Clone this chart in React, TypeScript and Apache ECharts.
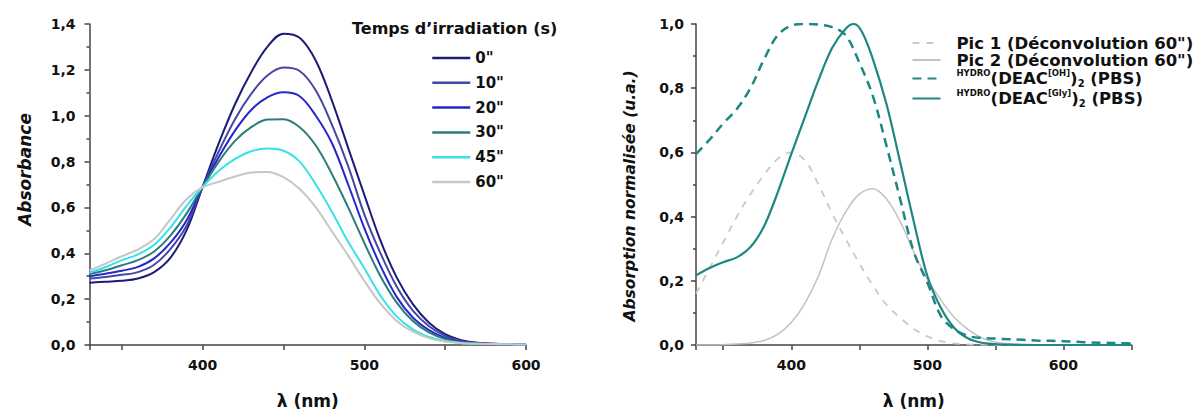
import React, { useEffect, useRef } from 'react';
import * as echarts from 'echarts';

// ---------- data ----------
const wlLeft = [330, 340, 350, 360, 370, 380, 390, 400, 410, 420, 430, 440, 450, 460, 470, 480, 490, 500, 510, 520, 530, 540, 550, 560, 570, 580, 590, 600];
const irrNames = ['0"', '10"', '20"', '30"', '45"', '60"'];
const irr0 = [0.272, 0.276, 0.280, 0.290, 0.318, 0.380, 0.500, 0.690, 0.880, 1.050, 1.190, 1.300, 1.358, 1.340, 1.240, 1.065, 0.860, 0.655, 0.455, 0.295, 0.178, 0.097, 0.047, 0.021, 0.010, 0.005, 0.003, 0.002];
const irr10 = [0.290, 0.297, 0.306, 0.318, 0.350, 0.418, 0.520, 0.690, 0.845, 0.985, 1.095, 1.175, 1.210, 1.195, 1.110, 0.960, 0.780, 0.570, 0.400, 0.255, 0.150, 0.082, 0.040, 0.018, 0.009, 0.005, 0.003, 0.002];
const irr20 = [0.300, 0.311, 0.324, 0.341, 0.378, 0.445, 0.543, 0.690, 0.820, 0.935, 1.025, 1.080, 1.102, 1.085, 1.000, 0.880, 0.700, 0.510, 0.345, 0.210, 0.120, 0.065, 0.031, 0.014, 0.007, 0.004, 0.003, 0.002];
const irr30 = [0.310, 0.326, 0.348, 0.370, 0.408, 0.477, 0.573, 0.690, 0.800, 0.890, 0.950, 0.983, 0.985, 0.950, 0.870, 0.745, 0.600, 0.445, 0.300, 0.185, 0.105, 0.055, 0.026, 0.012, 0.006, 0.004, 0.003, 0.002];
const irr45 = [0.315, 0.340, 0.370, 0.395, 0.437, 0.512, 0.607, 0.690, 0.760, 0.812, 0.845, 0.857, 0.847, 0.800, 0.700, 0.580, 0.450, 0.335, 0.215, 0.125, 0.068, 0.035, 0.017, 0.009, 0.005, 0.004, 0.003, 0.002];
const irr60 = [0.325, 0.355, 0.387, 0.417, 0.462, 0.548, 0.636, 0.688, 0.712, 0.735, 0.752, 0.755, 0.732, 0.680, 0.600, 0.495, 0.390, 0.280, 0.180, 0.105, 0.058, 0.030, 0.015, 0.008, 0.005, 0.004, 0.003, 0.002];
const irrColors = ['#1c1c78', '#4747a3', '#2626cf', '#2c7d79', '#35e2ea', '#c6c6c6'];

const wlRight = [330, 340, 350, 360, 370, 380, 390, 400, 410, 420, 430, 440, 450, 460, 470, 480, 490, 500, 510, 520, 530, 540, 550, 560, 570, 580, 590, 600, 610, 620, 630, 640, 650];
const rightNames = ['Pic 1 (Déconvolution 60")', 'Pic 2 (Déconvolution 60")', 'HYDRO(DEAC[OH])2 (PBS)', 'HYDRO(DEAC[Gly])2 (PBS)'];
const pic1 = [0.160, 0.240, 0.320, 0.400, 0.470, 0.530, 0.580, 0.600, 0.575, 0.500, 0.410, 0.330, 0.255, 0.185, 0.125, 0.085, 0.050, 0.027, 0.012, 0.005, 0.002, 0.001, 0, 0, 0, 0, 0, 0, 0, 0, 0, 0, 0];
const pic2 = [0, 0, 0.001, 0.003, 0.006, 0.014, 0.033, 0.070, 0.130, 0.215, 0.330, 0.415, 0.470, 0.487, 0.455, 0.385, 0.290, 0.205, 0.140, 0.085, 0.048, 0.022, 0.009, 0.004, 0.002, 0.001, 0, 0, 0, 0, 0, 0, 0];
const deacOH = [0.595, 0.640, 0.690, 0.735, 0.800, 0.890, 0.965, 0.995, 1.000, 0.998, 0.990, 0.965, 0.880, 0.775, 0.620, 0.455, 0.290, 0.195, 0.090, 0.048, 0.028, 0.022, 0.020, 0.018, 0.016, 0.014, 0.013, 0.012, 0.010, 0.008, 0.007, 0.006, 0.005];
const wlGly = [330, 340, 350, 360, 370, 380, 390, 400, 410, 420, 430, 440, 446, 452, 460, 470, 480, 490, 500, 510, 520, 530, 540, 550, 560, 570, 600, 650];
const deacGly = [0.217, 0.240, 0.258, 0.273, 0.305, 0.370, 0.475, 0.595, 0.710, 0.825, 0.925, 0.985, 1.000, 0.975, 0.890, 0.750, 0.570, 0.385, 0.215, 0.115, 0.052, 0.020, 0.007, 0.003, 0.001, 0, 0, 0];

// ---------- styles ----------
const FONT = 'DejaVu Sans';
const INK = '#111';
const AXIS = { color: '#444', width: 1.5 };
const TEAL = '#1f8783';

const fmtY = (v: number) => v.toFixed(1).replace('.', ',');
const fmtX = (v: number) => (Math.abs(v % 100) < 1e-6 ? String(v) : '');

const richLegend: Record<string, string> = {
  [rightNames[2]]: '{sup|HYDRO}{n|(DEAC}{sup|[OH]}{n|)}{sub|2}{n| (PBS)}',
  [rightNames[3]]: '{sup|HYDRO}{n|(DEAC}{sup|[Gly]}{n|)}{sub|2}{n| (PBS)}',
};

function xAxisOpt(grid: number, max: number) {
  return {
    type: 'value', gridIndex: grid, min: 330, max,
    name: 'λ (nm)', nameLocation: 'middle', nameGap: 47,
    nameTextStyle: { fontFamily: FONT, fontWeight: 'bold', fontSize: 17, color: INK },
    axisLine: { show: true, onZero: false, lineStyle: AXIS },
    axisTick: { show: true, inside: false, length: 5, lineStyle: AXIS },
    axisLabel: { formatter: fmtX, margin: 13, fontFamily: FONT, fontWeight: 'bold', fontSize: 14, color: INK },
    splitLine: { show: false },
  };
}

function yAxisOpt(grid: number, max: number, name: string, fontSize: number, nameGap: number, padding: number[], margin: number) {
  return {
    type: 'value', gridIndex: grid, min: 0, max, interval: 0.2,
    name, nameLocation: 'middle', nameGap,
    nameTextStyle: { fontFamily: FONT, fontWeight: 'bold', fontStyle: 'italic', fontSize, color: INK, padding },
    axisLine: { show: true, onZero: false, lineStyle: AXIS },
    axisTick: { show: true, inside: false, length: 5, lineStyle: AXIS },
    minorTick: { show: true, splitNumber: 2, length: 3, lineStyle: AXIS },
    axisLabel: { formatter: fmtY, margin, fontFamily: FONT, fontWeight: 'bold', fontSize: 14, color: INK },
    splitLine: { show: false },
  };
}

function pairs(xs: number[], ys: number[]) {
  return xs.map((x, i) => [x, ys[i]]);
}

const irrData = [irr0, irr10, irr20, irr30, irr45, irr60];

const leftSeries = irrData.map((d, i) => ({
  name: irrNames[i], type: 'line', xAxisIndex: 0, yAxisIndex: 0,
  data: pairs(wlLeft, d), smooth: 0.35, symbol: 'none',
  lineStyle: { color: irrColors[i], width: 2 }, itemStyle: { color: irrColors[i] },
}));

const rightSeries = [
  { name: rightNames[0], data: pairs(wlRight, pic1), color: '#c9c9c9', width: 1.8, type: [7, 7] },
  { name: rightNames[1], data: pairs(wlRight, pic2), color: '#c2c2c2', width: 1.5, type: 'solid' },
  { name: rightNames[2], data: pairs(wlRight, deacOH), color: TEAL, width: 2.5, type: [9, 6] },
  { name: rightNames[3], data: pairs(wlGly, deacGly), color: TEAL, width: 2.2, type: 'solid' },
].map((s) => ({
  name: s.name, type: 'line', xAxisIndex: 1, yAxisIndex: 1,
  data: s.data, smooth: 0.35, symbol: 'none',
  lineStyle: { color: s.color, width: s.width, type: s.type }, itemStyle: { color: s.color },
}));

const option = {
  animation: false,
  backgroundColor: '#ffffff',
  title: {
    text: 'Temps d’irradiation (s)', left: 352, top: 20, padding: 0,
    textStyle: { fontFamily: FONT, fontWeight: 'bold', fontSize: 16, color: INK },
  },
  grid: [
    { left: 89.5, top: 24, width: 436.5, height: 327 },
    { left: 696, top: 24, width: 435.5, height: 327 },
  ],
  xAxis: [xAxisOpt(0, 600), xAxisOpt(1, 650)],
  yAxis: [
    yAxisOpt(0, 1.4, 'Absorbance', 17, 56, [0, 0, 0, 30], 14),
    yAxisOpt(1, 1.0, 'Absorption normalisée (u.a.)', 15.5, 58, [0, 23, 0, 0], 12),
  ],
  legend: [
    {
      data: irrNames, orient: 'vertical', left: 431, top: 49, padding: 0,
      itemWidth: 38, itemHeight: 14, itemGap: 6.8, selectedMode: false,
      itemStyle: { opacity: 0 },
      lineStyle: { width: 2.5 },
      textStyle: { fontFamily: FONT, fontWeight: 'bold', fontSize: 15, color: INK, lineHeight: 18 },
    },
    {
      data: rightNames, orient: 'vertical', left: 911.5, top: 34.5, padding: 0,
      itemWidth: 28, itemHeight: 14, itemGap: 0, selectedMode: false,
      itemStyle: { opacity: 0 },
      formatter: (name: string) => richLegend[name] ?? name,
      textStyle: {
        fontFamily: FONT, fontWeight: 'bold', fontSize: 16.5, color: INK, lineHeight: 17,
        padding: [0, 0, 0, 11],
        rich: {
          n: { fontFamily: FONT, fontWeight: 'bold', fontSize: 16.5, color: INK, lineHeight: 20 },
          sup: { fontFamily: FONT, fontWeight: 'bold', fontSize: 8.5, color: INK, lineHeight: 11, verticalAlign: 'top' },
          sub: { fontFamily: FONT, fontWeight: 'bold', fontSize: 10, color: INK, lineHeight: 10, verticalAlign: 'bottom' },
        },
      },
    },
  ],
  series: [...leftSeries, ...rightSeries],
};

export default function App() {
  const ref = useRef<HTMLDivElement>(null);
  useEffect(() => {
    if (!ref.current) return;
    const chart = echarts.init(ref.current, null, { renderer: 'svg' });
    chart.setOption(option as any);
    return () => chart.dispose();
  }, []);
  return (
    <div
      ref={ref}
      style={{ position: 'fixed', left: 0, top: 0, width: 1200, height: 414, background: '#fff' }}
    />
  );
}
